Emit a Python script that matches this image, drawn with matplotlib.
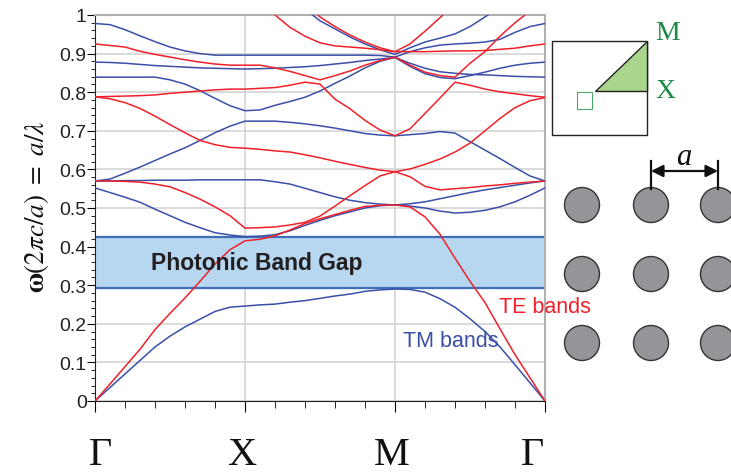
import numpy as np
import matplotlib
matplotlib.use('Agg')
import matplotlib.pyplot as plt
from matplotlib.patches import Rectangle, Polygon, Circle
from matplotlib.transforms import ScaledTranslation

nan = np.nan

# wave vector along Gamma-X-M-Gamma, sampled every 0.1
k = np.round(np.arange(31) * 0.1, 1)
k_ticks = [0, 1, 2, 3]
k_labels = ['Γ', 'X', 'M', 'Γ']

# TE bands (red)
te1 = [0.000, 0.044, 0.089, 0.134, 0.185, 0.227, 0.267, 0.310, 0.355, 0.392, 0.415,
       0.419, 0.428, 0.443, 0.460, 0.472, 0.483, 0.494, 0.504, 0.507, 0.508,
       0.503, 0.477, 0.432, 0.370, 0.310, 0.255, 0.187, 0.120, 0.060, 0.000]
te2 = [0.570, 0.570, 0.569, 0.567, 0.562, 0.555, 0.540, 0.523, 0.503, 0.480, 0.448,
       0.449, 0.451, 0.456, 0.463, 0.479, 0.505, 0.532, 0.558, 0.583, 0.594,
       0.581, 0.556, 0.547, 0.550, 0.553, 0.557, 0.560, 0.564, 0.567, 0.570]
te3 = [0.788, 0.783, 0.773, 0.758, 0.738, 0.716, 0.695, 0.675, 0.664, 0.657, 0.655,
       0.652, 0.648, 0.645, 0.638, 0.630, 0.621, 0.613, 0.605, 0.598, 0.594,
       0.601, 0.613, 0.627, 0.645, 0.668, 0.700, 0.732, 0.760, 0.778, 0.786]
te4 = [0.788, 0.789, 0.790, 0.791, 0.793, 0.797, 0.800, 0.803, 0.806, 0.808, 0.808,
       0.810, 0.812, 0.818, 0.826, 0.821, 0.782, 0.757, 0.727, 0.702, 0.687,
       0.705, 0.745, 0.785, 0.826, 0.818, 0.808, 0.801, 0.796, 0.791, 0.787]
te5 = [0.925, 0.921, 0.917, 0.906, 0.898, 0.891, 0.884, 0.878, 0.873, 0.870, 0.870,
       0.870, 0.863, 0.854, 0.843, 0.832, 0.843, 0.855, 0.870, 0.882, 0.891,
       0.870, 0.852, 0.843, 0.839, 0.875, 0.905, 0.945, 0.980, 1.010, 1.040]
te6 = [nan] * 11 + [1.040, 1.000, 0.968, 0.945, 0.928, 0.920, 0.917, 0.914, 0.910, 0.905,
                    0.905, 0.905, 0.906, 0.907, 0.907, 0.908, 0.911, 0.914, 0.920, 0.925]
te7 = [nan] * 14 + [1.030, 0.995, 0.970, 0.948, 0.930, 0.915, 0.905,
                    0.925, 0.958, 0.993, 1.030] + [nan] * 6

# TM bands (blue)
tm1 = [0.000, 0.035, 0.070, 0.105, 0.140, 0.168, 0.192, 0.212, 0.232, 0.243, 0.246,
       0.249, 0.251, 0.256, 0.260, 0.266, 0.272, 0.277, 0.284, 0.288, 0.290,
       0.289, 0.282, 0.265, 0.243, 0.213, 0.180, 0.140, 0.094, 0.047, 0.000]
tm2 = [0.552, 0.540, 0.528, 0.515, 0.497, 0.480, 0.463, 0.449, 0.436, 0.430, 0.426,
       0.427, 0.431, 0.441, 0.455, 0.468, 0.480, 0.490, 0.500, 0.506, 0.508,
       0.505, 0.500, 0.492, 0.487, 0.489, 0.494, 0.503, 0.516, 0.533, 0.552]
tm3 = [0.570, 0.570, 0.571, 0.571, 0.572, 0.572, 0.572, 0.573, 0.573, 0.573, 0.573,
       0.573, 0.568, 0.562, 0.551, 0.540, 0.529, 0.520, 0.514, 0.510, 0.508,
       0.511, 0.516, 0.524, 0.532, 0.540, 0.547, 0.553, 0.559, 0.565, 0.570]
tm4 = [0.570, 0.575, 0.590, 0.606, 0.623, 0.640, 0.656, 0.675, 0.695, 0.712, 0.725,
       0.725, 0.725, 0.722, 0.718, 0.713, 0.707, 0.700, 0.693, 0.689, 0.687,
       0.690, 0.693, 0.698, 0.694, 0.672, 0.650, 0.628, 0.605, 0.583, 0.570]
tm5 = [0.839, 0.839, 0.839, 0.839, 0.839, 0.832, 0.821, 0.804, 0.784, 0.765, 0.752,
       0.754, 0.766, 0.776, 0.787, 0.803, 0.823, 0.842, 0.863, 0.880, 0.890,
       0.875, 0.862, 0.853, 0.849, 0.846, 0.845, 0.843, 0.841, 0.840, 0.839]
tm6 = [0.878, 0.877, 0.875, 0.872, 0.869, 0.867, 0.865, 0.863, 0.862, 0.861, 0.860,
       0.861, 0.862, 0.864, 0.866, 0.869, 0.873, 0.877, 0.882, 0.886, 0.890,
       0.867, 0.848, 0.838, 0.835, 0.843, 0.852, 0.862, 0.870, 0.875, 0.878]
tm7 = [0.978, 0.975, 0.962, 0.946, 0.931, 0.917, 0.907, 0.900, 0.896, 0.896, 0.896,
       0.896, 0.896, 0.896, 0.896, 0.896, 0.896, 0.896, 0.896, 0.895, 0.891,
       0.905, 0.915, 0.922, 0.925, 0.927, 0.930, 0.937, 0.955, 0.970, 0.978]
tm8 = [nan] * 13 + [1.040, 1.015, 0.985, 0.964, 0.943, 0.925, 0.910, 0.898,
                    0.915, 0.930, 0.940, 0.951, 0.970, 0.995, 1.020] + [nan] * 3

te_bands = [te1, te2, te3, te4, te5, te6, te7]
tm_bands = [tm1, tm2, tm3, tm4, tm5, tm6, tm7, tm8]

# photonic band gap (TM)
gap_lo, gap_hi = 0.292, 0.426

red = '#f0202a'
blue = '#3a4fa8'

fig = plt.figure(figsize=(7.31, 4.77), dpi=100)
ax = fig.add_axes([95/731, 1-402/477, 450/731, 386/477])

ax.axhspan(gap_lo, gap_hi, color='#b7d7f1', zorder=1)
ax.axhline(gap_lo, color='#3f6db8', lw=1.6, zorder=2)
ax.axhline(gap_hi, color='#3f6db8', lw=1.6, zorder=2)

for b in tm_bands:
    ax.plot(k, b, color=blue, lw=1.1, zorder=3)
for b in te_bands:
    ax.plot(k, b, color=red, lw=1.1, zorder=4)

ax.set_xlim(0, 3)
ax.set_ylim(0, 1)
ax.set_xticks(k_ticks)
ax.set_xticklabels(k_labels, fontfamily='Liberation Serif', fontsize=29, color='#111111')
ax.set_xticks(np.arange(0, 3.01, 0.2), minor=True)
ax.set_yticks(np.round(np.arange(0, 1.01, 0.1), 1))
ax.set_yticklabels(['0', '0.1', '0.2', '0.3', '0.4', '0.5', '0.6', '0.7', '0.8', '0.9', '1'],
                   fontfamily='Liberation Sans', fontsize=14, color='#222222')
ax.set_yticks(np.arange(0, 1.001, 0.02), minor=True)
ax.tick_params(axis='x', which='major', length=8, pad=17, direction='out')
ax.tick_params(axis='x', which='minor', length=5, direction='out')
ax.tick_params(axis='y', which='major', length=6, pad=0, direction='out')
ax.tick_params(axis='y', which='minor', length=3, direction='out')
# end labels sit a little inside the frame, like the original
for lbl, dx in zip(ax.get_xticklabels(), [5, -3, -3, -12]):
    lbl.set_transform(lbl.get_transform() + ScaledTranslation(dx/100, 0, fig.dpi_scale_trans))
ax.grid(True, which='major', color='#d4d4d4', lw=1.2, zorder=0)
ax.set_axisbelow(True)
for s in ['top', 'right']:
    ax.spines[s].set_color('#b0b0b0')
    ax.spines[s].set_linewidth(1.5)
for s in ['left', 'bottom']:
    ax.spines[s].set_color('#222222')

ax.text(1.08, 0.36, 'Photonic Band Gap', ha='center', va='center', fontsize=16.5,
        fontweight='bold', color='#231f20', fontfamily='Liberation Sans', zorder=5)
ax.text(2.053, 0.158, 'TM bands', ha='left', va='center', fontsize=15.5,
        color=blue, fontfamily='Liberation Sans', zorder=5)
ax.text(2.693, 0.246, 'TE bands', ha='left', va='center', fontsize=15.5,
        color=red, fontfamily='Liberation Sans', clip_on=False, zorder=5)

plt.rcParams['mathtext.fontset'] = 'stix'
fig.text(37/731, 1-207/477, r'$\mathbf{\omega}(2\pi c/a)\ =\ a/\lambda$', rotation=90,
         ha='center', va='center', fontsize=19.5, color='#111111')

# right panel: Brillouin zone and square lattice
ov = fig.add_axes([0, 0, 1, 1], zorder=-1)
ov.set_xlim(0, 731)
ov.set_ylim(477, 0)
ov.axis('off')

green = '#1d8a48'
ov.add_patch(Rectangle((552, 42), 95, 94, fill=False, ec='#222222', lw=1))
ov.add_patch(Polygon([(595, 92), (647, 92), (647, 42)], closed=True,
                     fc='#a9d58d', ec='#222222', lw=1))
ov.add_patch(Rectangle((577, 93), 15, 17, fill=False, ec='#4aa868', lw=0.8))
ov.text(655, 34, 'M', fontfamily='Liberation Serif', fontsize=20, color=green,
        ha='left', va='center')
ov.text(655, 92, 'X', fontfamily='Liberation Serif', fontsize=20, color=green,
        ha='left', va='center')

lat_x = [582, 651, 718]
lat_y = [206, 275, 344]
for cy in lat_y:
    for cx in lat_x:
        ov.add_patch(Circle((cx, cy), 17.5, fc='#939598', ec='#333333', lw=1))

ov.plot([651, 651], [162, 190], color='#111111', lw=1.6)
ov.plot([718, 718], [162, 190], color='#111111', lw=1.6)
ov.annotate('', xy=(718, 172), xytext=(651, 172),
            arrowprops=dict(arrowstyle='<|-|>', color='#111111', lw=1.6,
                            mutation_scale=18, shrinkA=0, shrinkB=0))
ov.text(684, 158, 'a', fontfamily='Liberation Serif', fontstyle='italic',
        fontsize=22, ha='center', va='center', color='#111111')

fig.savefig('out.png', dpi=100)
